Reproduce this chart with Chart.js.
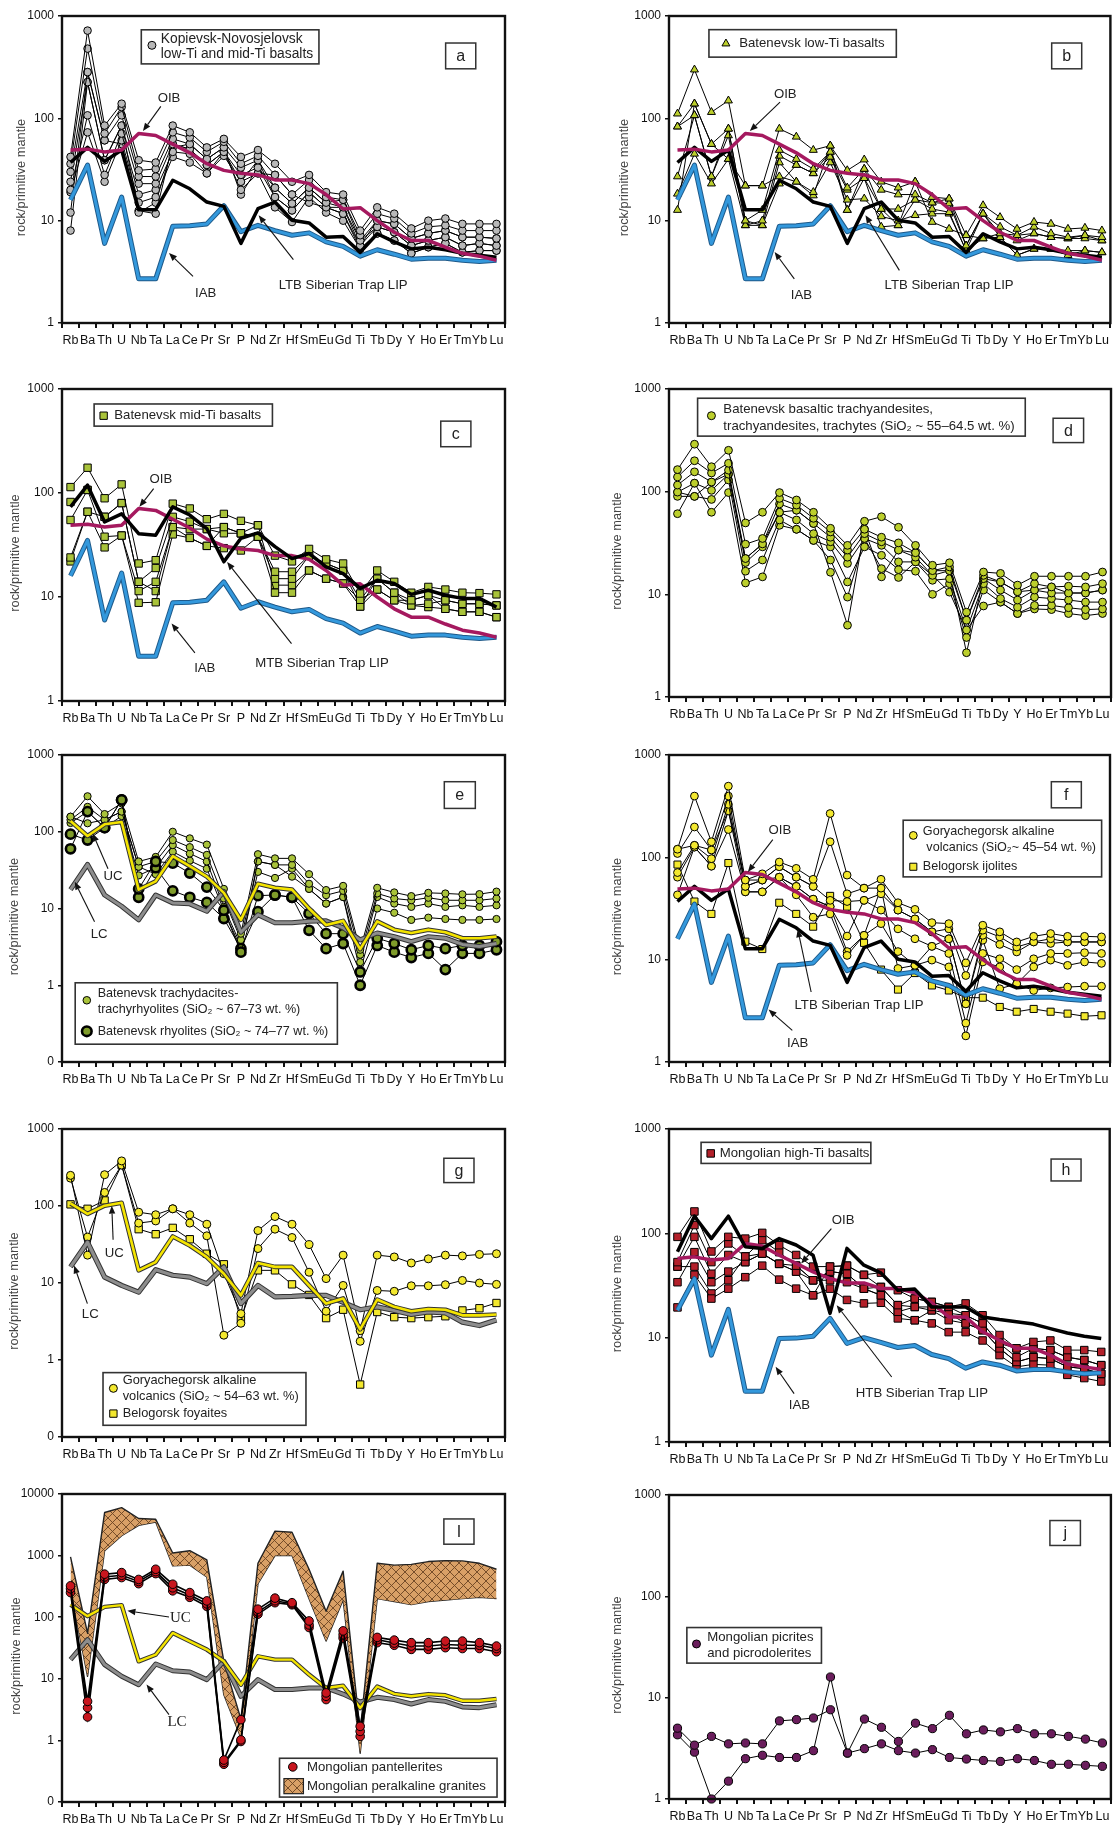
<!DOCTYPE html>
<html><head><meta charset="utf-8">
<script src="https://cdn.jsdelivr.net/npm/chart.js@4.4.1/dist/chart.umd.min.js"></script>
<style>
html,body{margin:0;padding:0;background:#fff;}
body{width:1116px;height:1825px;position:relative;overflow:hidden;}
canvas{position:absolute;}
</style></head><body>
<script>
const elements = ['Rb','Ba','Th','U','Nb','Ta','La','Ce','Pr','Sr','P','Nd','Zr','Hf','Sm','Eu','Gd','Ti','Tb','Dy','Y','Ho','Er','Tm','Yb','Lu'];

// reference patterns
const oib  = [49,50,47,49,71,68,56,46,36,31,29,28,25,25,23,18,13,13.4,10,7.7,6.4,6.4,5.5,4.8,4.5,4.1];
const iab  = [16,35,6,17,2.7,2.7,8.8,8.9,9.3,14,7.8,9,8,7.2,7.6,6.2,5.6,4.5,5.2,4.7,4.2,4.3,4.3,4.1,4.0,4.1];
const ltb  = [37,52,38,49,12.8,12.8,24.8,20.5,15.2,13.8,6,13.1,15.2,10.1,9.5,6.9,7,4.9,7.45,6.2,5.3,5.5,5.2,4.8,4.6,4.4];
const mtb  = [73.6,119,52.7,63,40.6,39.3,73.6,61.4,45.5,21.8,36.7,41.4,30.5,23.4,26.2,19.5,16.8,12.1,14.5,13.5,10.6,11.6,10.4,9.7,9.7,8.0];
const htb  = [66.5,146,89,146,74.5,71.7,89,77.3,61.7,17.1,71.7,49.5,41.8,28.5,29.2,19.7,19.7,19.7,15.8,14.9,14.2,13.5,12.2,11.1,10.3,9.8];
const oibH = [57.3,59.5,55.4,57.3,80,75.5,61.7,51.5,42.7,36.8,33.5,33.5,29.6,29.6,26.9,21.6,15.8,15.8,11.4,9.45,7.9,7.9,6.8,5.6,5.25,4.95];
const iabH = [18.3,36.8,6.8,18.7,3.06,3.06,9.8,9.9,10.3,15.3,8.8,10,9,8.05,8.4,6.9,6.3,5.1,5.85,5.45,4.8,4.95,4.95,4.7,4.5,4.6];
const ucE  = [138,88,125,134,17.6,22.6,48,35.6,26,16,7.1,21,18.6,17.6,10,6.1,6.9,2.95,6.8,5.3,4.8,5.3,4.9,4.1,4.1,4.3];
const lcE  = [17.6,37.5,15,10.7,7.1,15,11.8,11.5,9.2,16.7,4.9,8.3,6.5,6.5,6.8,6.9,5.6,3.9,4.8,4.3,3.7,4.3,4.1,3.4,3.2,3.5];
const ucG  = [108,79,101,110,14.6,18.7,40.2,30.7,21.7,13.2,6.9,18.2,16.2,16.2,9.3,5.4,6.3,2.5,6.1,4.9,4.3,4.6,4.5,3.8,3.8,3.9];
const lcG  = [16.2,33.8,11.9,9.3,7.6,14.9,12.6,11.9,9.8,16.2,5.4,9.3,6.6,6.7,6.9,6.9,5.6,4.5,4.9,4.4,3.9,4.2,4.1,3.1,2.8,3.3];
const ucI  = [160,104,147,157,19.2,24.6,55.6,40.6,29.8,19.2,8.0,23.2,20.5,20.5,11.7,7.1,7.7,3.35,7.5,5.7,5.2,5.65,5.4,4.4,4.4,4.7];
const lcI  = [20.5,43.2,17,11,8,17.4,13.5,12.9,9.7,19.2,5.2,9.7,6.7,6.7,7.1,7.1,5.65,4.2,5,4.6,3.9,4.6,4.3,3.5,3.4,3.8];

// (a) Kopievsk-Novosjelovsk basalts
const aS1 = [42,720,85,139,39,37,85,73,52,63,42,49,36,24,28,19,18,8,13.5,11.7,8.4,10,10.5,9.3,9.3,9.3];
const aS2 = [36,480,71,129,31,32,73,65,47,59,36,43,28,18,25,17,16,7.2,11.7,10.5,7.5,8.7,9,8,8,8];
const aS3 = [30,283,61,107,27,27,63,56,40,52,33,39,21,14.7,21,15,13.5,6.4,10,9.3,6.7,7.5,8,6.9,6.9,6.7];
const aS4 = [24,226,39,85,23,23,56,50,35,47,28,33,17,12.6,19,13.5,11.7,5.7,8.7,7.7,5.7,6.4,6.9,5.7,6,5.7];
const aS5 = [20,107,28,71,18,20,47,45,29,43,24,29,13.5,9.7,17,12,10,5.3,7.5,6.4,4.8,5.5,6,4.9,5.1,5.1];
const aS6 = [19,73,24,61,15,17,42,37,29,47,20,29,28,18,15,13.5,13.5,5.7,10,9.3,6.7,7.5,8,6.9,6.9,6.7];
const aS7 = [12,283,61,56,12,15,52,56,40,52,18,33,21,14.7,21,15,16,6.4,8.7,7.7,5.7,6.4,6.9,5.7,6,5.7];
const aS8 = [8,226,39,85,12.5,11.7,56,50,35,47,24,39,17,12.6,19,13.5,11.7,5.3,7.5,6.4,4.8,5.5,6,4.9,5.1,5.1];
// (b) Batenevsk low-Ti basalts
const bS1 = [111,299,115,149,22,22,79,66,49,54,31,39.5,24,21,24,17,16.4,7.2,14.1,10.8,8.3,9.7,9.3,8.3,8.5,8];
const bS2 = [83,139,56,79,10,12.7,49,40,32,47,21,32,20,18,18,15,14.7,5.7,11.7,8.7,7.2,8.7,7.5,6.9,7.2,6.9];
const bS3 = [27,107,27,68,9,10,43,35,29,42,20,26,13,13,16,13,12.1,5.1,6.7,7.5,6.4,7.5,6.9,6.7,6.7,6.4];
const bS4 = [18.3,45,23,40,9,9,37,24,19,37,16,16.4,11,10,11.3,11.7,11.7,5.1,11.7,6.9,4.6,5.3,5.3,5.1,5.1,4.9];
const bS5 = [12.7,139,56,40,22,22,27,24,17.6,54,12.7,26,8.7,9,24,9.7,8.3,7.2,6.7,6.9,4.6,5.3,5.3,4.6,5.1,4.9];
const bS6 = [83,107,27,79,10,9,23,35,29,47,12.7,32,13,9,16,15,16.4,5.7,11.7,7.5,7.2,7.5,6.9,6.7,7.2,6.4];
// (c) Batenevsk mid-Ti basalts
const cS1 = [114,175,89,121,21,22.6,79,71,56,63,54,49,25,22,29,23,21,10.8,18,14,11,12.5,11.8,11,10.9,10.6];
const cS2 = [82,107,59,80,14,19,59,53,45,47,41,38,17.5,17.5,25,21,18,9.4,15,11,9.3,10.4,9.3,8.6,8.6,8.3];
const cS3 = [55,107,38,39,11.4,14,47,45,45,41,41,38,15,15,25,21,18,8.1,15,11,8.3,8.6,9.3,8.6,8.6,8.3];
const cS4 = [24,66,30,39,8.8,8.9,40,37,31,29.5,28,38,11,11,18,15,13.5,8.1,11.8,9.3,8.3,8,7.7,7.2,7.2,6.4];
const cS5 = [22,66,59,80,14,11.4,47,37,31,47,41,49,13,13,18,15,13.5,9.4,11.8,9.3,9.3,10.4,7.7,7.2,7.2,6.4];
// (d) Batenevsk trachyandesites
const dS1 = [164,290,175,253,49.6,63,98,83,63,44,30,51.5,57,45,30,19.2,20.3,6.7,16.5,16,12.3,15,15,15,15,16.5];
const dS2 = [139,200,152,189,30.8,35,86,74,55,40.5,27,43,36,31.7,25.4,17,18.5,5.6,15.3,13.2,10.6,12.7,11.8,12,11.8,12.7];
const dS3 = [116,156,124,162,22.3,31,76,66,49,36,23,39,32.5,27,23,15.3,17,5.6,14.2,11,8.8,11,10.3,10.3,10.3,11];
const dS4 = [99,121,103,148,20.4,29,63,53,39,32.5,20,35,30,20.7,20.7,13.7,14.2,4.5,12.7,9.1,7.5,9.4,9.1,8.8,8.4,8.4];
const dS5 = [90,90,84,130,16.8,21.6,53,43,33.5,29,13.2,29,24,17.4,16.8,10,12.7,3.8,11,8.4,6.5,7.8,7.8,7.4,7.1,7.2];
const dS6 = [61,121,63,98,12.9,14.8,47,43,33.5,21.6,9.4,35,17.8,14.6,20.7,15.3,10.5,4.5,7.7,8.4,6.5,7.2,7.1,6.5,6.2,6.5];
const dS7 = [99,90,124,148,22.3,31,63,66,49,16.4,5,43,14.8,27,25.4,17,17,2.7,14.2,13.2,10.6,11,11.8,10.3,10.3,11];
// (e) Batenevsk trachydacites-trachyrhyolites and rhyolites
const eT1 = [157,290,170,235,41,47,100,82,68,18,4.7,51,45,45,28,17.4,19.7,2.9,18.6,16.2,14.5,16,15.7,15.3,15.4,16.6];
const eT2 = [143,211,143,183,35,41,78,63,50,13.5,3.9,41,37,37,21,14.9,17,2.5,15.7,13.5,12.8,13.8,12.8,12.8,12.8,13.5];
const eT3 = [130,183,113,160,27,34,67,52,41,10.5,3.3,30,25,33,18,11.6,14.1,2.0,14.1,11.6,10.5,11.6,10.5,11,10.5,11];
const eT4 = [157,129,143,183,35,28,55,42,33,9.5,3,41,37,26,18,11.6,14.1,1.5,10,8.8,7.1,7.6,7.3,7.1,7.1,7.3];
const eR1 = [93,78,113,260,18,41,39,29,19,9.5,2.7,14.7,15,14,8.6,4.7,4.7,1.49,4.1,3.5,2.9,3.3,3,3.3,3.3,3.7];
const eR2 = [60,183,113,260,14,34,17,14,12,7.4,3,9.1,15,14,5.2,3,3.5,1.0,3.3,2.7,2.3,2.6,1.6,2.6,2.6,2.9];
// (f) Goryachegorsk alkaline volcanics and Belogorsk ijolites
const fC1 = [120,397,142,496,60,69,90,78,61,268,67,50,61,36,31,23,22.5,9.3,21.7,18.7,14.9,16.9,18,16.9,16.9,16.7];
const fC2 = [109,198,118,397,52,60,81,64,52,142,44,50,50,30.5,25,18.7,20,7,19.4,16.7,13.3,14.9,16,14.9,14.9,14.9];
const fC3 = [71,131,97,330,52,60,81,64,52,38,37,38,44,30.5,25,18.7,16,3.7,17.3,14.1,11.9,14.9,14.4,14.9,14.9,14.9];
const fC4 = [64,126,82,285,46,46,64,52,39,33,17,38,30.5,20,16,13.5,11.5,2.4,11.5,10.2,8,10.2,11.5,11.5,11.7,11.5];
const fC5 = [43,126,82,187,46,46,64,43,26,28,11,17.3,22.5,12,8.8,9.9,8.5,1.8,9.5,8.5,5.8,8.5,9.9,8.8,9.5,9.2];
const fC6 = [120,131,118,285,60,60,64,52,39,33,12,17.3,50,8.2,8.8,13.5,16,3.7,15.5,5.2,5.8,5,5.3,5.4,5.5,5.5];
const fSq = [85,37,28,88,15,12.7,36,28,21,42,33,14.6,8,5.1,7.4,5.6,5,4.25,4.25,3.45,3.1,3.3,3.1,2.97,2.8,2.86];
// (g) Goryachegorsk alkaline volcanics and Belogorsk foyaites
const gC1 = [250,23,255,385,83,77,92,77,58,13.2,4,48,73,58,31.5,11.4,23,2.4,23,21.8,18.2,20.6,23,22.5,23.5,24];
const gC2 = [230,39.5,150,340,60,64,92,60,41,2.1,3,28,50,39,13.8,4.3,9.3,1.75,8.0,7.8,9.2,9.2,9.5,10.8,10,9.6];
const gSq = [105,92,118,340,50,43,52,37,24,17.5,3.4,14.6,14.6,9.6,7,3.5,4.5,0.48,4.2,3.6,3.5,3.6,3.7,4.4,4.7,5.5];
// (h) Mongolian high-Ti basalts
const hS1 = [92.5,162,67,92.5,89,101,77,62,48,48,49,40,42,28.5,23.7,22,19.7,21.3,16.4,10.6,7.9,9.1,9.4,7.6,7.6,7.3];
const hS2 = [53,120,53,80,60,86,66,49,35.5,43,41,29.5,30.6,20.5,19.7,19.7,17.1,16.4,13.7,8.8,6.5,7.9,7.6,6.5,6.1,5.45];
const hS3 = [48,92.5,41,62,53,64,51,43,35.5,35.5,34,29.5,25.5,17.7,19.7,18.3,14.7,13.7,11.8,7.9,5.85,6.5,6.3,5.25,5.05,4.5];
const hS4 = [34,66,34,43,53,64,51,43,25.5,29.5,23,21.3,21.6,15.3,14.7,13.7,11.3,11.3,9.4,6.8,5.25,5.55,5.45,4.4,4.1,3.8];
const hS5 = [19.5,40,23.7,29.5,38,49,36,29.5,25.5,48,49,40,30.6,20.5,23.7,22,19.7,16.4,13.7,8.8,7.9,7.9,7.6,6.5,6.1,5.45];
const hS6 = [48,48,26.5,35.5,60,64,51,49,35.5,43,41,29.5,25.5,17.7,14.7,18.3,17.1,13.7,11.8,7.9,5.85,6.5,6.3,5.25,5.05,4.5];
// (i) Mongolian pantellerites and peralkaline granites
const iP1 = [323,4.3,500,530,410,600,343,251,184,0.48,2.17,135,204,172,87,5.9,60,1.69,47,42.5,38.6,38.6,41,41,38.6,34];
const iP2 = [290,3.4,450,480,380,550,300,230,165,0.44,1.02,122,185,165,75,5.2,52,1.4,43,38,34,34,36,35,35,31];
const iP3 = [251,2.4,410,440,350,510,268,210,150,0.41,0.96,112,172,159,68,4.6,46,1.16,38.6,35,30,30,32,31,31,27.5];
const graniteUpper = [950,55,5000,6000,4000,3900,1100,1200,850,19,2.2,750,2500,2400,600,125,560,1.4,750,700,720,800,830,820,750,600];
const graniteLower = [290,11,1200,2100,3100,3500,680,700,450,5.5,1.1,350,1000,1000,200,41,193,0.62,200,180,160,180,190,200,210,200];
// (j) Mongolian picrites and picrodolerites
const jS1 = [5.0,3.4,4.15,3.5,3.57,3.5,5.9,6.07,6.3,7.6,2.84,6.15,5.1,3.7,5.6,4.95,6.7,4.4,4.8,4.6,4.95,4.4,4.4,4.15,3.9,3.57];
const jS2 = [4.3,2.9,1.0,1.5,2.5,2.7,2.57,2.57,3.0,16,2.84,3.14,3.5,3.0,2.84,3.07,2.57,2.48,2.4,2.35,2.5,2.4,2.2,2.2,2.15,2.1];

const yTicks3 = [1,10,100,1000];
const yTicks4 = [0.1,1,10,100,1000];
const yTicks5 = [0.1,1,10,100,1000,10000];

const FONT = "'Liberation Sans', Arial, Helvetica, sans-serif";
const SERIF = "'Liberation Serif', 'Times New Roman', serif";

const C = {oib:'#a5195f', iab:'#3398dc', iabEdge:'#1f5a8a', uc:'#f4e400', lc:'#8d8d8d', edge:'#333333',
  gray:'#b8b8b8', lime:'#bccf2c', lime2:'#a9c33a', rhy:'#7f9c2a', yellow:'#f3e82e', red:'#b3202a', red2:'#c8161e', purple:'#6a1d5c'};

function hatchPattern(){
  const c=document.createElement('canvas'); c.width=c.height=9;
  const g=c.getContext('2d'); g.fillStyle='#d9a066'; g.fillRect(0,0,9,9);
  g.strokeStyle='#6b4423'; g.lineWidth=0.9; g.beginPath();
  g.moveTo(0,0); g.lineTo(9,9); g.moveTo(9,0); g.lineTo(0,9); g.stroke();
  return g.createPattern(c,'repeat');
}
const HATCH = hatchPattern();

function sample(data, ps, r, fill, opt){
  opt=opt||{};
  return {data, borderColor:'#000', borderWidth:opt.lw||1, pointStyle:ps, pointRadius:r, pointHoverRadius:r,
    pointBackgroundColor:fill, pointBorderColor:'#000', pointBorderWidth:opt.pbw||1, order:opt.order||10, clip:false, fill:false, tension:0};
}
function ref(data, color, w, order){
  return {data, borderColor:color, borderWidth:w, pointRadius:0, pointHoverRadius:0, order, clip:false, fill:false, tension:0, borderJoinStyle:'round'};
}
function refPair(data, core, edge, w, order){
  return [ref(data, edge, w+2, order+0.5), ref(data, core, w, order)];
}

const LAYOUT = {plotL:[62,669], plotR:[505,1111], yW:[62,69], padR:[10,5], padT:12, xH:30};

const panels = [
 {id:'a', col:0, top:16, bottom:323, ymin:1, ymax:1000, yticks:yTicks3, titleOff:-41,
  datasets:()=>[...[aS1,aS2,aS3,aS4,aS5,aS6,aS7,aS8].map(d=>sample(d,'circle',3.8,C.gray)),
    ...refPair(iab,C.iab,C.iabEdge,3,6), ref(ltb,'#000',3.5,4), ref(oib,C.oib,3.5,3)],
  letter:{t:'a', box:[0.866,0.934,0.088,0.172]},
  legend:{box:[0.179,0.58,0.045,0.156], font:13.8, items:[{ps:'circle', r:4, fill:C.gray, mx:0.203, my:0.0955, tx:0.223, ty:[0.077,0.125], lines:['Kopievsk-Novosjelovsk','low-Ti and mid-Ti basalts']}]},
  notes:[{t:'OIB', x:5.78, y:156, from:[5.3,131], to:[4.25,75]},
         {t:'IAB', x:7.93, y:1.93, from:[7.19,2.86], to:[5.78,4.83]},
         {t:'LTB Siberian Trap LIP', x:16.0, y:2.33, from:[13.08,4.16], to:[11.04,11.27]}]},
 {id:'b', col:1, top:16, bottom:323, ymin:1, ymax:1000, yticks:yTicks3, titleOff:-45,
  datasets:()=>[...[bS1,bS2,bS3,bS4,bS5,bS6].map(d=>sample(d,'triangle',4.6,C.lime)),
    ...refPair(iab,C.iab,C.iabEdge,3,6), ref(ltb,'#000',3.5,4), ref(oib,C.oib,3.5,3)],
  letter:{t:'b', box:[0.867,0.935,0.088,0.172]},
  legend:{box:[0.0905,0.515,0.0445,0.134], items:[{ps:'triangle', r:4.6, fill:C.lime, mx:0.129, my:0.09, tx:0.159, ty:[0.09], lines:['Batenevsk low-Ti basalts']}]},
  notes:[{t:'OIB', x:6.35, y:170, from:[6.04,144], to:[4.26,75]},
         {t:'IAB', x:7.3, y:1.86, from:[6.88,2.7], to:[5.72,4.94]},
         {t:'LTB Siberian Trap LIP', x:16.0, y:2.33, from:[13.07,3.27], to:[11.07,11.3]}]},
 {id:'c', col:0, top:389, bottom:701, ymin:1, ymax:1000, yticks:yTicks3, titleOff:-47,
  datasets:()=>[...[cS1,cS2,cS3,cS4,cS5].map(d=>sample(d,'rect',5.2,C.lime2)),
    ...refPair(iab,C.iab,C.iabEdge,3,6), ref(oib,C.oib,3.5,5), ref(mtb,'#000',3.5,3)],
  letter:{t:'c', box:[0.855,0.923,0.103,0.185]},
  legend:{box:[0.0725,0.475,0.048,0.119], items:[{ps:'rect', r:5.2, fill:C.lime2, mx:0.094, my:0.0856, tx:0.118, ty:[0.0856], lines:['Batenevsk mid-Ti basalts']}]},
  notes:[{t:'OIB', x:5.3, y:135, from:[4.88,110], to:[4.04,73.6]},
         {t:'IAB', x:7.88, y:2.05, from:[7.3,2.9], to:[5.93,5.55]},
         {t:'MTB Siberian Trap LIP', x:14.76, y:2.32, from:[12.97,3.56], to:[9.19,21.7]}]},
 {id:'d', col:1, top:389, bottom:697, ymin:1, ymax:1000, yticks:yTicks3, titleOff:-52,
  datasets:()=>[dS1,dS2,dS3,dS4,dS5,dS6,dS7].map(d=>sample(d,'circle',3.9,C.lime)),
  letter:{t:'d', box:[0.869,0.938,0.095,0.174]},
  legend:{box:[0.0647,0.806,0.030,0.153], items:[{ps:'circle', r:4, fill:C.lime, mx:0.096, my:0.0867, tx:0.123, ty:[0.066,0.12], lines:['Batenevsk basaltic trachyandesites,','trachyandesites, trachytes (SiO\u2082 ~ 55\u201364.5 wt. %)']}]},
  notes:[]},
 {id:'e', col:0, top:755, bottom:1062, ymin:0.1, ymax:1000, yticks:yTicks4, titleOff:-48,
  datasets:()=>[...[eT1,eT2,eT3,eT4].map(d=>sample(d,'circle',3.6,C.lime2)),
    ...[eR1,eR2].map(d=>sample(d,'circle',4.6,C.rhy,{pbw:2.6,order:9})),
    ...refPair(lcE,C.lc,C.edge,3,6), ...refPair(ucE,C.uc,C.edge,2.6,4)],
  letter:{t:'e', box:[0.863,0.933,0.087,0.174]},
  legend:{box:[0.0298,0.6216,0.742,0.942], font:12.6, items:[
    {ps:'circle', r:3.8, fill:C.lime2, mx:0.056, my:0.799, tx:0.0805, ty:[0.777,0.83], lines:['Batenevsk trachydacites-','trachyrhyolites (SiO\u2082 ~ 67\u201373 wt. %)']},
    {ps:'circle', r:4.8, fill:C.rhy, bw:2.6, mx:0.056, my:0.9, tx:0.0805, ty:[0.9], lines:['Batenevsk rhyolites (SiO\u2082 ~ 74\u201377 wt. %)']}]},
  notes:[{t:'UC', x:2.5, y:25.9, from:[2.2,33], to:[1.3,95]},
         {t:'LC', x:1.68, y:4.6, from:[1.41,6.7], to:[0.25,22.3]}]},
 {id:'f', col:1, top:755, bottom:1062, ymin:1, ymax:1000, yticks:yTicks3, titleOff:-52,
  datasets:()=>[...[fC1,fC2,fC3,fC4,fC5,fC6].map(d=>sample(d,'circle',3.9,C.yellow)), sample(fSq,'rect',5,C.yellow),
    ...refPair(iab,C.iab,C.iabEdge,3,6), ref(ltb,'#000',3.5,4), ref(oib,C.oib,3.5,3)],
  letter:{t:'f', box:[0.867,0.935,0.087,0.172]},
  legend:{box:[0.531,0.981,0.2125,0.397], font:12.6, items:[
    {ps:'circle', r:3.9, fill:C.yellow, mx:0.554, my:0.262, tx:0.5756, ty:[0.25,0.302], lines:['Goryachegorsk alkaline',' volcanics (SiO\u2082~ 45\u201354 wt. %)']},
    {ps:'rect', r:5, fill:C.yellow, mx:0.554, my:0.364, tx:0.5756, ty:[0.364], lines:['Belogorsk ijolites']}]},
  notes:[{t:'OIB', x:6.04, y:182, from:[5.62,149], to:[4.15,72]},
         {t:'LTB Siberian Trap LIP', x:10.7, y:3.58, from:[7.88,4.83], to:[7.09,19.8]},
         {t:'IAB', x:7.09, y:1.51, from:[6.77,2.04], to:[5.37,3.25]}]},
 {id:'g', col:0, top:1129, bottom:1437, ymin:0.1, ymax:1000, yticks:yTicks4, titleOff:-48,
  datasets:()=>[...[gC1,gC2].map(d=>sample(d,'circle',4,C.yellow)), sample(gSq,'rect',5.2,C.yellow),
    ...refPair(lcG,C.lc,C.edge,3.2,6), ...refPair(ucG,C.uc,C.edge,2.6,4)],
  letter:{t:'g', box:[0.862,0.93,0.095,0.174]},
  legend:{box:[0.0926,0.5507,0.791,0.962], font:12.8, items:[
    {ps:'circle', r:4, fill:C.yellow, mx:0.116, my:0.842, tx:0.137, ty:[0.818,0.868], lines:['Goryachegorsk alkaline','volcanics (SiO\u2082 ~ 54\u201363 wt. %)']},
    {ps:'rect', r:5.2, fill:C.yellow, mx:0.116, my:0.924, tx:0.137, ty:[0.924], lines:['Belogorsk foyaites']}]},
  notes:[{t:'UC', x:2.57, y:24.5, from:[2.5,36.5], to:[2.42,101]},
         {t:'LC', x:1.16, y:3.9, from:[0.99,5.4], to:[0.21,16.9]}]},
 {id:'h', col:1, top:1129, bottom:1442, ymin:1, ymax:1000, yticks:yTicks3, titleOff:-52,
  datasets:()=>[...[hS1,hS2,hS3,hS4,hS5,hS6].map(d=>sample(d,'rect',5.3,C.red)),
    ...refPair(iabH,C.iab,C.iabEdge,3,6), ref(oibH,C.oib,3.5,5), ref(htb,'#000',3.5,3)],
  letter:{t:'h', box:[0.867,0.935,0.096,0.166]},
  legend:{box:[0.0728,0.458,0.0426,0.11], items:[{ps:'rect', r:5.3, fill:C.red, mx:0.0946, my:0.078, tx:0.115, ty:[0.078], lines:['Mongolian high-Ti basalts']}]},
  notes:[{t:'OIB', x:9.77, y:134, from:[9.08,111], to:[7.3,51.5]},
         {t:'IAB', x:7.19, y:2.25, from:[6.88,2.91], to:[5.79,5.25]},
         {t:'HTB Siberian Trap LIP', x:14.42, y:2.95, from:[12.64,4.2], to:[9.39,20.5]}]},
 {id:'i', col:0, top:1494, bottom:1802, ymin:0.1, ymax:10000, yticks:yTicks5, titleOff:-46,
  datasets:()=>[
    Object.assign(ref(graniteUpper,'#222',1.4,20),{fill:'+1', backgroundColor:HATCH}),
    ref(graniteLower,'#222',1.4,20),
    ...refPair(lcI,C.lc,C.edge,3,6), ...refPair(ucI,C.uc,C.edge,2.4,4),
    ...[iP1,iP2,iP3].map(d=>sample(d,'circle',4.3,C.red2,{lw:1.6,order:2}))],
  letter:{t:'I', box:[0.862,0.93,0.081,0.163]},
  legend:{box:[0.491,0.982,0.858,0.984], items:[
    {ps:'circle', r:4.3, fill:C.red2, mx:0.521, my:0.886, tx:0.553, ty:[0.886], lines:['Mongolian pantellerites']},
    {hatch:[0.501,0.545,0.924,0.973], tx:0.553, ty:[0.948], lines:['Mongolian peralkaline granites']}]},
  notes:[{t:'UC', x:6.45, y:96, serif:true, from:[5.78,101], to:[3.34,127]},
         {t:'LC', x:6.25, y:1.99, serif:true, from:[5.78,2.62], to:[4.46,8.08]}]},
 {id:'j', col:1, top:1495, bottom:1799, ymin:1, ymax:1000, yticks:yTicks3, titleOff:-52,
  datasets:()=>[jS1,jS2].map(d=>sample(d,'circle',4.1,C.purple)),
  letter:{t:'j', box:[0.862,0.931,0.084,0.166]},
  legend:{box:[0.0404,0.345,0.436,0.553], items:[{ps:'circle', r:4, fill:C.purple, mx:0.0622, my:0.49, tx:0.0865, ty:[0.469,0.52], lines:['Mongolian picrites','and picrodolerites']}]},
  notes:[]}
];

const DECOR = {};

function arrow(ctx, x1,y1,x2,y2){
  ctx.save(); ctx.strokeStyle='#111'; ctx.fillStyle='#111'; ctx.lineWidth=1.1;
  const a=Math.atan2(y2-y1,x2-x1), L=8, W=3.2;
  const bx=x2-L*Math.cos(a), by=y2-L*Math.sin(a);
  ctx.beginPath(); ctx.moveTo(x1,y1); ctx.lineTo(bx,by); ctx.stroke();
  ctx.beginPath(); ctx.moveTo(x2,y2);
  ctx.lineTo(bx+W*Math.sin(a), by-W*Math.cos(a));
  ctx.lineTo(bx-W*Math.sin(a), by+W*Math.cos(a)); ctx.closePath(); ctx.fill();
  ctx.restore();
}

const decorPlugin = {
  id:'decor',
  afterDraw(chart){
    const p = DECOR[chart.canvas.id]; if(!p) return;
    const ctx=chart.ctx, A=chart.chartArea, xs=chart.scales.x, ys=chart.scales.y;
    const X=f=>A.left+f*(A.right-A.left), Y=f=>A.top+f*(A.bottom-A.top);
    ctx.save();
    ctx.strokeStyle='#111'; ctx.lineWidth=2.4; ctx.strokeRect(A.left,A.top,A.right-A.left,A.bottom-A.top);
    ctx.save(); ctx.translate(A.left+p.titleOff,(A.top+A.bottom)/2+8); ctx.rotate(-Math.PI/2);
    ctx.fillStyle='#444'; ctx.font='12.8px '+FONT; ctx.textAlign='center'; ctx.textBaseline='middle';
    ctx.fillText('rock/primitive mantle',0,0); ctx.restore();
    p.notes.forEach(n=>{
      const tx=xs.getPixelForValue(n.x), ty=ys.getPixelForValue(n.y);
      ctx.fillStyle='#222'; ctx.font=(n.serif?'15px '+SERIF:'13.2px '+FONT); ctx.textAlign='center'; ctx.textBaseline='middle';
      ctx.fillText(n.t,tx,ty);
      arrow(ctx, xs.getPixelForValue(n.from[0]), ys.getPixelForValue(n.from[1]), xs.getPixelForValue(n.to[0]), ys.getPixelForValue(n.to[1]));
    });
    const lg=p.legend;
    const bx=X(lg.box[0]), by=Y(lg.box[2]), bw=X(lg.box[1])-bx, bh=Y(lg.box[3])-by;
    ctx.fillStyle='#fff'; ctx.fillRect(bx,by,bw,bh);
    ctx.strokeStyle='#333'; ctx.lineWidth=1.6; ctx.strokeRect(bx,by,bw,bh);
    lg.items.forEach(it=>{
      if(it.hatch){
        const hx=X(it.hatch[0]), hy=Y(it.hatch[2]);
        ctx.fillStyle=HATCH; ctx.fillRect(hx,hy,X(it.hatch[1])-hx,Y(it.hatch[3])-hy);
        ctx.strokeStyle='#222'; ctx.lineWidth=1.2; ctx.strokeRect(hx,hy,X(it.hatch[1])-hx,Y(it.hatch[3])-hy);
      } else {
        ctx.fillStyle=it.fill; ctx.strokeStyle='#000'; ctx.lineWidth=it.bw||1;
        Chart.helpers.drawPoint(ctx,{pointStyle:it.ps, radius:it.r, rotation:0, borderWidth:it.bw||1}, X(it.mx), Y(it.my));
      }
      ctx.fillStyle='#222'; ctx.font=(lg.font||13.2)+'px '+FONT; ctx.textAlign='left'; ctx.textBaseline='middle';
      it.lines.forEach((t,i)=>ctx.fillText(t, X(it.tx), Y(it.ty[i])));
    });
    const L=p.letter; const lx=X(L.box[0]), ly=Y(L.box[2]), lw=X(L.box[1])-lx, lh=Y(L.box[3])-ly;
    ctx.fillStyle='#fff'; ctx.fillRect(lx,ly,lw,lh);
    ctx.strokeStyle='#333'; ctx.lineWidth=1.5; ctx.strokeRect(lx,ly,lw,lh);
    ctx.fillStyle='#222'; ctx.font='16px '+FONT; ctx.textAlign='center'; ctx.textBaseline='middle';
    ctx.fillText(L.t, lx+lw/2, ly+lh/2+1);
    ctx.restore();
  }
};

panels.forEach(p=>{
  const col=p.col, yW=LAYOUT.yW[col];
  const plotL=LAYOUT.plotL[col], plotR=LAYOUT.plotR[col];
  const cv=document.createElement('canvas');
  const left=plotL-yW, top=p.top-LAYOUT.padT;
  const w=yW+(plotR-plotL)+LAYOUT.padR[col];
  const h=LAYOUT.padT+(p.bottom-p.top)+LAYOUT.xH;
  cv.width=w; cv.height=h;
  cv.style.left=left+'px'; cv.style.top=top+'px'; cv.style.width=w+'px'; cv.style.height=h+'px';
  cv.id='c_'+p.id; document.body.appendChild(cv);
  DECOR[cv.id]=p;
  new Chart(cv,{
    type:'line',
    data:{labels:elements, datasets:p.datasets()},
    options:{
      responsive:false, animation:false, devicePixelRatio:1, events:[],
      layout:{padding:{top:LAYOUT.padT, right:LAYOUT.padR[col], left:0, bottom:0}},
      plugins:{legend:{display:false}, tooltip:{enabled:false}},
      scales:{
        x:{type:'category', offset:true,
           grid:{offset:true, drawOnChartArea:false, drawTicks:true, tickLength:5, color:'#111', lineWidth:2},
           border:{display:false},
           ticks:{autoSkip:false, maxRotation:0, minRotation:0, padding:5, color:'#111', font:{family:FONT, size:12.5}},
           afterFit:(s)=>{s.height=LAYOUT.xH;}},
        y:{type:'logarithmic', min:p.ymin, max:p.ymax,
           grid:{drawOnChartArea:false, drawTicks:true, tickLength:4, color:'#111', lineWidth:1.5},
           border:{display:false},
           ticks:{padding:4, color:'#111', font:{family:FONT, size:12}, callback:(v)=> v<1?'0':String(v)},
           afterBuildTicks:(s)=>{s.ticks=p.yticks.map(v=>({value:v}));},
           afterFit:(s)=>{s.width=yW;}}
      }
    },
    plugins:[decorPlugin]
  });
});
</script>
</body></html>
